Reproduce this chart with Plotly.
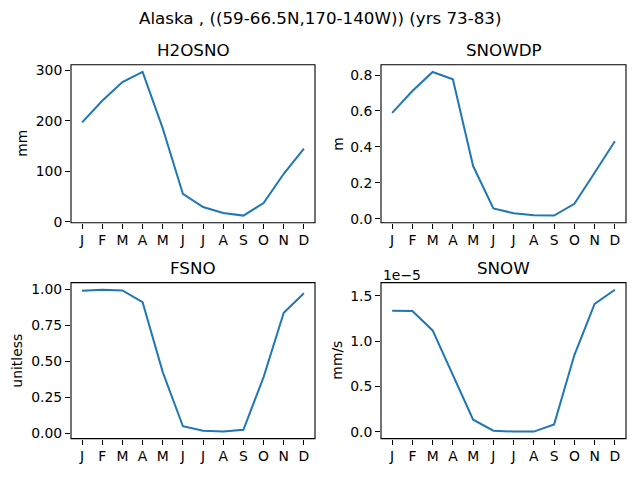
import plotly.graph_objects as go
from plotly.subplots import make_subplots

months = ["J", "F", "M", "A", "M", "J", "J", "A", "S", "O", "N", "D"]

h2osno = [197, 240, 277, 297, 185, 55, 29, 17, 12, 37, 95, 145]
snowdp = [0.589, 0.711, 0.817, 0.776, 0.293, 0.057, 0.030, 0.019, 0.017, 0.083, 0.256, 0.431]
fsno = [0.991, 0.998, 0.993, 0.911, 0.425, 0.048, 0.016, 0.011, 0.023, 0.39, 0.838, 0.973]
snow = [1.334e-5, 1.33e-5, 1.117e-5, 0.62e-5, 0.134e-5, 0.014e-5,
        0.004e-5, 0.004e-5, 0.083e-5, 0.846e-5, 1.41e-5, 1.565e-5]

titles = ["H2OSNO", "SNOWDP", "FSNO", "SNOW"]
units = ["mm", "m", "unitless", "mm/s"]
series = [h2osno, snowdp, fsno, snow]

ytickvals = [
    [0, 100, 200, 300],
    [0.0, 0.2, 0.4, 0.6, 0.8],
    [0.0, 0.25, 0.5, 0.75, 1.0],
    [0.0, 0.5e-5, 1.0e-5, 1.5e-5],
]
yticktext = [
    ["0", "100", "200", "300"],
    ["0.0", "0.2", "0.4", "0.6", "0.8"],
    ["0.00", "0.25", "0.50", "0.75", "1.00"],
    ["0.0", "0.5", "1.0", "1.5"],
]

W, H = 640, 480
FONT = "DejaVu Sans"
fs = 13.9

# axes boxes in pixels (left, right, top, bottom), like matplotlib tight_layout
boxes = [(71, 315, 64, 225), (381, 626, 64, 225),
         (71, 315, 286, 445), (381, 626, 286, 445)]
ylab_x = [22, 338, 17, 337]

fig = make_subplots(rows=2, cols=2)
annotations = []
shapes = []

for i, (vals, ttl, unit) in enumerate(zip(series, titles, units)):
    r, c = i // 2 + 1, i % 2 + 1
    fig.add_trace(go.Scatter(
        x=list(range(12)), y=vals, mode="lines",
        line=dict(color="#1f77b4", width=2), showlegend=False,
    ), row=r, col=c)

    l, rr, t, b = boxes[i]
    lo, hi = min(vals), max(vals)
    pad = (hi - lo) * 0.05
    axis_style = dict(showline=False,
                      ticks="outside", ticklen=5, tickwidth=1.1, tickcolor="black",
                      showgrid=False, zeroline=False,
                      tickfont=dict(family=FONT, size=fs, color="black"))
    fig.update_xaxes(domain=[l / W, rr / W], range=[-0.55, 11.55],
                     tickmode="array", tickvals=list(range(12)), ticktext=months,
                     row=r, col=c, **axis_style)
    fig.update_yaxes(domain=[1 - b / H, 1 - t / H], range=[lo - pad, hi + pad],
                     tickmode="array", tickvals=ytickvals[i], ticktext=yticktext[i],
                     row=r, col=c, **axis_style)

    # axes frame (all four spines)
    sfx = "" if i == 0 else str(i + 1)
    shapes.append(dict(type="rect", xref=f"x{sfx} domain", yref=f"y{sfx} domain",
                       x0=0, x1=1, y0=0, y1=1, line=dict(color="black", width=1.1),
                       fillcolor="rgba(0,0,0,0)", layer="above"))

    annotations.append(dict(text=ttl, x=(l + rr) / 2 / W, y=1 - (t - 3) / H,
                            xref="paper", yref="paper", xanchor="center", yanchor="bottom",
                            showarrow=False, font=dict(family=FONT, size=16.7, color="black")))
    annotations.append(dict(text=unit, x=ylab_x[i] / W, y=1 - (t + b) / 2 / H,
                            xref="paper", yref="paper", xanchor="center", yanchor="middle",
                            textangle=-90, showarrow=False,
                            font=dict(family=FONT, size=fs, color="black")))

# offset text for SNOW
annotations.append(dict(text="1e\u22125", x=381 / W, y=1 - 288 / H, xref="paper", yref="paper",
                        xanchor="left", yanchor="bottom", showarrow=False,
                        font=dict(family=FONT, size=fs, color="black")))

annotations.append(dict(text="Alaska , ((59-66.5N,170-140W)) (yrs 73-83)",
                        x=0.5, y=1 - 16 / H, xref="paper", yref="paper",
                        xanchor="center", yanchor="middle", showarrow=False,
                        font=dict(family=FONT, size=16.7, color="black")))

fig.update_layout(
    width=W, height=H,
    margin=dict(l=0, r=0, t=0, b=0),
    paper_bgcolor="white", plot_bgcolor="white",
    annotations=annotations,
    shapes=shapes,
)

fig.write_html("out.html", config={"displayModeBar": False},
               post_script="document.body.style.margin='0';")
